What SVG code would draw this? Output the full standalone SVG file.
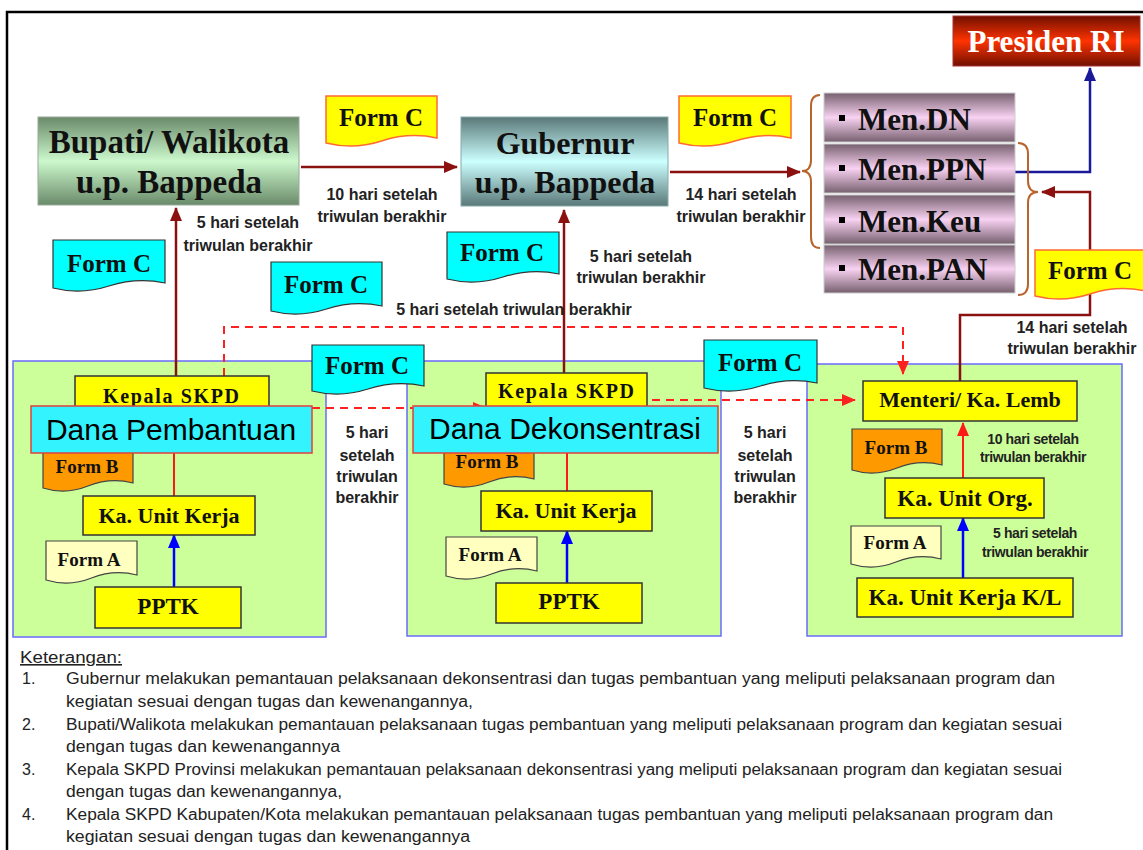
<svg xmlns="http://www.w3.org/2000/svg" width="1143" height="850" viewBox="0 0 1143 850">
<style>
.serif{font-family:"Liberation Serif","Times New Roman",serif;font-weight:bold;fill:#111}
.sans{font-family:"Liberation Sans",Arial,sans-serif;font-weight:bold;fill:#222}
.dana{font-family:"Liberation Sans",Arial,sans-serif;font-size:30px;fill:#000}
.note{font-family:"Liberation Sans Narrow","Liberation Sans",Arial,sans-serif;font-size:16px;fill:#222}
.panel{fill:#ccff99;stroke:#6a6aff;stroke-width:1.5}
.ybox{fill:#ffff00;stroke:#333;stroke-width:1.5}
.dbox{fill:#33f3ff;stroke:#e04040;stroke-width:1.5}
.fc{fill:#00ffff;stroke:#333;stroke-width:1.2}
.fy{fill:#ffff00;stroke:#ff6a33;stroke-width:1.5}
.fb{fill:#ff9900;stroke:#444;stroke-width:1.2}
.fa{fill:#ffffc0;stroke:#444;stroke-width:1.2}
.lbl{font-size:16px}
.sm{font-size:14px;letter-spacing:-0.4px}
.dr{fill:none;stroke:#8b1010;stroke-width:2.5}
.rd{fill:none;stroke:#ff1a1a;stroke-width:2}
.bl{fill:none;stroke:#0000ff;stroke-width:2.5}
.dash{fill:none;stroke:#ff2020;stroke-width:2;stroke-dasharray:8,6}
.brace{fill:none;stroke:#b8642c;stroke-width:2}
.fct{font-size:25px}
.fab{font-size:19px}
.box{font-size:22px}
</style>
<defs>
<linearGradient id="gBup" x1="0" y1="0" x2="0" y2="1"><stop offset="0" stop-color="#6a8a6a"/><stop offset="0.5" stop-color="#ccf8cc"/><stop offset="1" stop-color="#6a8a6a"/></linearGradient>
<linearGradient id="gGub" x1="0" y1="0" x2="0" y2="1"><stop offset="0" stop-color="#5a7878"/><stop offset="0.5" stop-color="#ccffff"/><stop offset="1" stop-color="#5a7878"/></linearGradient>
<linearGradient id="gMen" x1="0" y1="0" x2="0" y2="1"><stop offset="0" stop-color="#76606e"/><stop offset="0.5" stop-color="#f8d2f2"/><stop offset="1" stop-color="#76606e"/></linearGradient>
<linearGradient id="gPres" x1="0" y1="0" x2="0" y2="1"><stop offset="0" stop-color="#701000"/><stop offset="0.5" stop-color="#ff3300"/><stop offset="1" stop-color="#701000"/></linearGradient>
<marker id="aDR" markerUnits="userSpaceOnUse" markerWidth="14" markerHeight="12" refX="13" refY="6" orient="auto"><path d="M0,0 L14,6 L0,12 Z" fill="#8b1010"/></marker>
<marker id="aR" markerUnits="userSpaceOnUse" markerWidth="14" markerHeight="12" refX="13" refY="6" orient="auto"><path d="M0,0 L14,6 L0,12 Z" fill="#ff1a1a"/></marker>
<marker id="aB" markerUnits="userSpaceOnUse" markerWidth="14" markerHeight="12" refX="13" refY="6" orient="auto"><path d="M0,0 L14,6 L0,12 Z" fill="#0000ff"/></marker>
<marker id="aN" markerUnits="userSpaceOnUse" markerWidth="14" markerHeight="12" refX="13" refY="6" orient="auto"><path d="M0,0 L14,6 L0,12 Z" fill="#1a1a99"/></marker>
<marker id="aD" markerUnits="userSpaceOnUse" markerWidth="14" markerHeight="12" refX="13" refY="6" orient="auto"><path d="M0,0 L14,6 L0,12 Z" fill="#ff2020"/></marker>
</defs>
<rect x="0" y="0" width="1143" height="850" fill="#fff"/>
<rect x="7" y="12" width="1150" height="850" fill="none" stroke="#000" stroke-width="2.5"/>

<g id="panels">
<rect id="panel-pembantuan" class="panel" x="13" y="361" width="313" height="276"/>
<rect id="panel-dekonsentrasi" class="panel" x="407" y="361" width="314" height="275"/>
<rect id="panel-kl" class="panel" x="807" y="364" width="315" height="272"/>
</g>

<g id="connectors">
<line class="dr" x1="301" y1="167" x2="457" y2="167" marker-end="url(#aDR)"/>
<line class="dr" x1="670" y1="172" x2="800" y2="172" marker-end="url(#aDR)"/>
<line class="dr" x1="176" y1="376" x2="176" y2="208" marker-end="url(#aDR)"/>
<line class="dr" x1="564" y1="373" x2="564" y2="210" marker-end="url(#aDR)"/>
<path class="dr" d="M960,381 V315 H1090 V192 H1042" marker-end="url(#aDR)"/>
<path d="M1015,172 H1090 V68" fill="none" stroke="#1a1a99" stroke-width="2.5" marker-end="url(#aN)"/>
<path class="brace" d="M820,95 Q811,95 811,106 L811,160 Q811,171 802,171 Q811,171 811,182 L811,237 Q811,248 820,248"/>
<path class="brace" d="M1018,143 Q1028,143 1028,154 L1028,181 Q1028,192 1038,192 Q1028,192 1028,203 L1028,284 Q1028,295 1018,295"/>
<path class="dash" d="M224,376 V327 H903 V374" marker-end="url(#aD)"/>
<line class="dash" x1="312" y1="408" x2="486" y2="408" marker-end="url(#aD)"/>
<line class="dash" x1="652" y1="400" x2="855" y2="400" marker-end="url(#aD)"/>
<line class="rd" x1="174" y1="453" x2="174" y2="496"/>
<line class="rd" x1="567" y1="453" x2="567" y2="491"/>
<line class="rd" x1="963" y1="478" x2="963" y2="423" marker-end="url(#aR)"/>
<line class="bl" x1="174" y1="587" x2="174" y2="535" marker-end="url(#aB)"/>
<line class="bl" x1="567" y1="583" x2="567" y2="531" marker-end="url(#aB)"/>
<line class="bl" x1="963" y1="578" x2="963" y2="518" marker-end="url(#aB)"/>
</g>

<g id="labels" class="sans lbl" text-anchor="middle">
<text x="382" y="200">10 hari setelah</text><text x="382" y="222">triwulan berakhir</text>
<text x="741" y="200">14 hari setelah</text><text x="741" y="222">triwulan berakhir</text>
<text x="248" y="228">5 hari setelah</text><text x="248" y="251">triwulan berakhir</text>
<text x="641" y="262">5 hari setelah</text><text x="641" y="283">triwulan berakhir</text>
<text x="514" y="315">5 hari setelah  triwulan berakhir</text>
<text x="1072" y="333">14 hari setelah</text><text x="1072" y="354">triwulan berakhir</text>
<text x="367" y="438">5 hari</text><text x="367" y="461">setelah</text><text x="367" y="482">triwulan</text><text x="367" y="503">berakhir</text>
<text x="765" y="438">5 hari</text><text x="765" y="461">setelah</text><text x="765" y="482">triwulan</text><text x="765" y="503">berakhir</text>
<text class="sm" x="1033" y="444">10 hari setelah</text><text class="sm" x="1033" y="462">triwulan berakhir</text>
<text class="sm" x="1035" y="538">5 hari setelah</text><text class="sm" x="1035" y="557">triwulan berakhir</text>
</g>

<g id="bupati">
<rect x="38" y="117" width="261" height="88" fill="url(#gBup)" stroke="#9aa89a" stroke-width="1"/>
<text class="serif" x="169" y="153" font-size="33" text-anchor="middle">Bupati/ Walikota</text>
<text class="serif" x="169" y="193" font-size="33" text-anchor="middle">u.p. Bappeda</text>
</g>
<g id="gubernur">
<rect x="461" y="117" width="207" height="89" fill="url(#gGub)" stroke="#8aa" stroke-width="1"/>
<text class="serif" x="565" y="154" font-size="32" text-anchor="middle">Gubernur</text>
<text class="serif" x="565" y="193" font-size="32" text-anchor="middle">u.p. Bappeda</text>
</g>
<g id="presiden">
<rect x="953" y="16" width="187" height="50" fill="url(#gPres)" stroke="#a33" stroke-width="1"/>
<text class="serif" x="1046" y="52" font-size="31" text-anchor="middle" style="fill:#fff">Presiden RI</text>
</g>
<g id="men-dn">
<rect x="824" y="93" width="191" height="49" fill="url(#gMen)" stroke="#ccc" stroke-width="1"/>
<rect x="839" y="115" width="6" height="6" fill="#000"/>
<text class="serif" x="858" y="130" font-size="31">Men.DN</text>
</g>
<g id="men-ppn">
<rect x="824" y="144" width="191" height="49" fill="url(#gMen)" stroke="#ccc" stroke-width="1"/>
<rect x="839" y="165" width="6" height="6" fill="#000"/>
<text class="serif" x="858" y="180" font-size="31">Men.PPN</text>
</g>
<g id="men-keu">
<rect x="824" y="195" width="191" height="49" fill="url(#gMen)" stroke="#ccc" stroke-width="1"/>
<rect x="839" y="217" width="6" height="6" fill="#000"/>
<text class="serif" x="858" y="232" font-size="31">Men.Keu</text>
</g>
<g id="men-pan">
<rect x="824" y="245" width="191" height="48" fill="url(#gMen)" stroke="#ccc" stroke-width="1"/>
<rect x="839" y="265" width="6" height="6" fill="#000"/>
<text class="serif" x="858" y="280" font-size="31">Men.PAN</text>
</g>

<g id="formc-1"><path class="fy" d="M326,96 H437 V138 Q409,132 381.5,141 T326,143 Z"/><text class="serif fct" x="381" y="126" text-anchor="middle">Form C</text></g>
<g id="formc-2"><path class="fy" d="M679,96 H791 V138 Q763,132 735,141 T679,143 Z"/><text class="serif fct" x="735" y="126" text-anchor="middle">Form C</text></g>
<g id="formc-3"><path class="fy" d="M1035,250 H1145 V291 Q1117.5,285 1090,294 T1035,296 Z"/><text class="serif fct" x="1090" y="279" text-anchor="middle">Form C</text></g>
<g id="formc-4"><path class="fc" d="M53,240 H165 V283 Q137,277 109,286 T53,288 Z"/><text class="serif fct" x="109" y="272" text-anchor="middle">Form C</text></g>
<g id="formc-5"><path class="fc" d="M271,262 H382 V306 Q354,300 326.5,309 T271,311 Z"/><text class="serif fct" x="326" y="293" text-anchor="middle">Form C</text></g>
<g id="formc-6"><path class="fc" d="M447,232 H559 V274 Q531,268 503,277 T447,279 Z"/><text class="serif fct" x="502" y="261" text-anchor="middle">Form C</text></g>
<g id="formc-7"><path class="fc" d="M312,345 H424 V386 Q396,380 368,389 T312,391 Z"/><text class="serif fct" x="367" y="374" text-anchor="middle">Form C</text></g>
<g id="formc-8"><path class="fc" d="M704,340 H817 V383 Q788.75,377 760.5,386 T704,388 Z"/><text class="serif fct" x="760" y="371" text-anchor="middle">Form C</text></g>

<g id="kepala-skpd-1"><rect class="ybox" x="75" y="376" width="194" height="34"/><text class="serif" x="171" y="403" font-size="20" text-anchor="middle" textLength="136" lengthAdjust="spacing">Kepala SKPD</text></g>
<g id="formb-1"><path class="fb" d="M43,448 H133 V483 Q110.5,477 88,486 T43,488 Z"/><text class="serif fab" x="87" y="473" text-anchor="middle">Form B</text></g>
<g id="dana-pembantuan"><rect class="dbox" x="31" y="406" width="281" height="47"/><text class="dana" x="171" y="440" text-anchor="middle">Dana Pembantuan</text></g>
<g id="ka-unit-kerja-1"><rect class="ybox" x="83" y="496" width="172" height="39"/><text class="serif box" x="169" y="523" text-anchor="middle">Ka. Unit Kerja</text></g>
<g id="forma-1"><path class="fa" d="M46,541 H137 V575 Q114,569 91.5,578 T46,580 Z"/><text class="serif fab" x="89" y="566" text-anchor="middle">Form A</text></g>
<g id="pptk-1"><rect class="ybox" x="95" y="587" width="146" height="41"/><text class="serif" x="168" y="614" font-size="23" text-anchor="middle">PPTK</text></g>

<g id="kepala-skpd-2"><rect class="ybox" x="486" y="373" width="161" height="36"/><text class="serif" x="566" y="398" font-size="20" text-anchor="middle" textLength="136" lengthAdjust="spacing">Kepala SKPD</text></g>
<g id="formb-2"><path class="fb" d="M444,446 H534 V479 Q511.5,473 489,482 T444,484 Z"/><text class="serif fab" x="487" y="468" text-anchor="middle">Form B</text></g>
<g id="dana-dekonsentrasi"><rect class="dbox" x="413" y="406" width="305" height="47"/><text class="dana" x="565" y="439" text-anchor="middle">Dana Dekonsentrasi</text></g>
<g id="ka-unit-kerja-2"><rect class="ybox" x="481" y="491" width="171" height="40"/><text class="serif box" x="566" y="518" text-anchor="middle">Ka. Unit Kerja</text></g>
<g id="forma-2"><path class="fa" d="M446,537 H537 V571 Q514,565 491.5,574 T446,576 Z"/><text class="serif fab" x="490" y="561" text-anchor="middle">Form A</text></g>
<g id="pptk-2"><rect class="ybox" x="496" y="583" width="146" height="40"/><text class="serif" x="569" y="609" font-size="23" text-anchor="middle">PPTK</text></g>

<g id="menteri"><rect class="ybox" x="863" y="381" width="214" height="40"/><text class="serif box" x="970" y="407" text-anchor="middle">Menteri/ Ka. Lemb</text></g>
<g id="formb-3"><path class="fb" d="M852,429 H942 V465 Q919.5,459 897,468 T852,470 Z"/><text class="serif fab" x="896" y="454" text-anchor="middle">Form B</text></g>
<g id="ka-unit-org"><rect class="ybox" x="885" y="478" width="159" height="40"/><text class="serif" x="965" y="506" font-size="23" text-anchor="middle">Ka. Unit Org.</text></g>
<g id="forma-3"><path class="fa" d="M851,526 H941 V559 Q918.5,553 896,562 T851,564 Z"/><text class="serif fab" x="895" y="549" text-anchor="middle">Form A</text></g>
<g id="ka-unit-kerja-kl"><rect class="ybox" x="857" y="578" width="216" height="39"/><text class="serif" x="965" y="605" font-size="23" text-anchor="middle">Ka. Unit Kerja K/L</text></g>

<g id="keterangan" class="note">
<text x="20" y="663" textLength="102" lengthAdjust="spacingAndGlyphs" text-decoration="underline">Keterangan:</text>
<text x="22" y="684">1.</text>
<text x="66" y="684" textLength="989" lengthAdjust="spacingAndGlyphs">Gubernur melakukan pemantauan pelaksanaan dekonsentrasi  dan  tugas pembantuan  yang meliputi pelaksanaan program dan</text>
<text x="66" y="707" textLength="407" lengthAdjust="spacingAndGlyphs">kegiatan sesuai dengan tugas  dan  kewenangannya,</text>
<text x="22" y="730">2.</text>
<text x="66" y="730" textLength="996" lengthAdjust="spacingAndGlyphs">Bupati/Walikota melakukan pemantauan pelaksanaan tugas pembantuan yang meliputi pelaksanaan program dan kegiatan sesuai</text>
<text x="66" y="752" textLength="274" lengthAdjust="spacingAndGlyphs">dengan tugas  dan  kewenangannya</text>
<text x="22" y="775">3.</text>
<text x="66" y="775" textLength="996" lengthAdjust="spacingAndGlyphs">Kepala SKPD Provinsi melakukan pemantauan pelaksanaan dekonsentrasi  yang meliputi pelaksanaan program dan kegiatan sesuai</text>
<text x="66" y="797" textLength="276" lengthAdjust="spacingAndGlyphs">dengan tugas  dan  kewenangannya,</text>
<text x="22" y="820">4.</text>
<text x="66" y="820" textLength="987" lengthAdjust="spacingAndGlyphs">Kepala SKPD Kabupaten/Kota  melakukan pemantauan pelaksanaan tugas pembantuan  yang meliputi pelaksanaan program dan</text>
<text x="66" y="842" textLength="404" lengthAdjust="spacingAndGlyphs">kegiatan sesuai dengan tugas dan kewenangannya</text>
</g>
</svg>
